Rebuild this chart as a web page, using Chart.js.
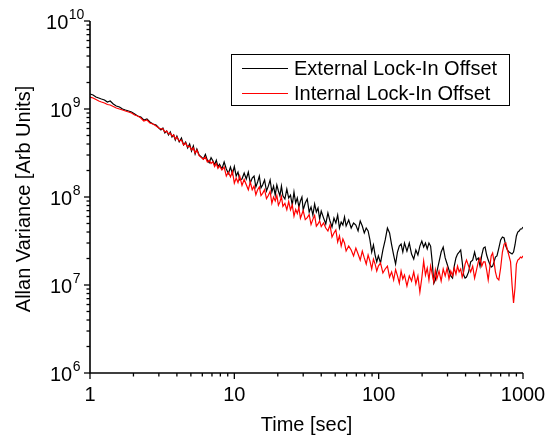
<!DOCTYPE html>
<html>
<head>
<meta charset="utf-8">
<script src="https://cdn.jsdelivr.net/npm/chart.js@4.4.1/dist/chart.umd.min.js"></script>
<style>
    html, body { margin: 0; padding: 0; background: #ffffff; }
    canvas { display: block; }
</style>
</head>
<body>
<canvas id="graficoAllan" width="550" height="440"></canvas>
<script>
// Tempos de integração (tau, em segundos)
const tau = [
    1, 1.05, 1.1, 1.15, 1.2, 1.26, 1.32, 1.38, 1.45, 1.52, 1.6, 1.68, 1.76, 1.85, 1.94, 2.04, 2.14, 2.25, 2.36, 2.48, 2.6, 2.73, 2.87, 3.0,
    3.1, 3.2, 3.3, 3.4, 3.5, 3.6, 3.7, 3.8, 3.9, 4.0,
    4.15, 4.3, 4.45, 4.6, 4.75, 4.9, 5.05, 5.2, 5.35, 5.5,
    5.7, 5.9, 6.1, 6.3, 6.5, 6.7, 6.9, 7.1, 7.3, 7.5, 7.7, 7.9,
    8.2, 8.5, 8.8, 9.1, 9.4, 9.7, 10, 10.3, 10.6, 10.9,
    11.3, 11.7, 12.1, 12.5, 12.9, 13.3, 13.7, 14.1, 14.5, 14.9, 15.3, 15.7,
    16.2, 16.7, 17.2, 17.7, 18.2, 18.7, 19.2, 19.7, 20.2, 20.7, 21.2, 21.7,
    22.4, 23.1, 23.8, 24.5, 25.2, 25.9, 26.6, 27.3, 28, 28.7, 29.4,
    30, 31, 32, 33, 34, 35, 36, 37, 38, 39, 40,
    41.5, 43, 44.5, 46, 47.5, 49, 50.5, 52, 53.5, 55, 56.5, 58, 59.5,
    62, 64.5, 67, 69.5, 72, 74.5, 77, 79.5, 82, 84.5, 87, 89.5, 92, 94.5, 97, 99.5,
    103, 107, 111, 115, 119, 123, 127, 131, 135, 139, 143, 147,
    151, 157, 163, 169, 175, 181, 187, 193, 199, 205, 211, 217, 223, 229, 235, 241, 247,
    253, 262, 271, 280, 289, 298, 307, 316, 325, 334, 343, 352, 361, 370, 379, 388, 397,
    406, 420, 434, 448, 462, 476, 490, 504, 518, 532, 546, 560, 574, 588, 602, 616, 630, 644,
    660, 680, 700, 720, 740, 760, 780, 800, 820, 840, 860, 880, 900, 920, 940, 960, 980, 1000
];

// Variância de Allan - offset do lock-in externo
const externoOffset = [
    1481e6, 1443e6, 1369e6, 1334e6, 1299e6, 1266e6, 1201e6, 1233e6, 1140e6, 1082e6, 1054e6, 1000e6, 974e6, 949e6, 925e6, 877e6, 833e6, 811e6, 750e6, 770e6, 712e6, 675e6, 658e6, 608e6,
    577e6, 608e6, 534e6, 562e6, 507e6, 548e6, 481e6, 507e6, 444e6, 493e6,
    422e6, 468e6, 390e6, 422e6, 361e6, 400e6, 333e6, 380e6, 308e6, 351e6,
    300e6, 285e6, 270e6, 305e6, 262e6, 245e6, 280e6, 258e6, 233e6, 262e6, 220e6, 236e6,
    208e6, 250e6, 208e6, 185e6, 219e6, 183e6, 222e6, 173e6, 192e6, 156e6,
    160e6, 187e6, 160e6, 192e6, 144e6, 164e6, 173e6, 130e6, 148e6, 173e6, 127e6, 137e6,
    156e6, 117e6, 133e6, 156e6, 114e6, 133e6, 105e6, 137e6, 117e6, 103e6, 133e6, 103e6,
    94.9e6, 123e6, 97.4e6, 105e6, 81.1e6, 114e6, 85.5e6, 97.4e6, 77.0e6, 90.1e6, 100e6,
    71.2e6, 85.5e6, 94.9e6, 67.5e6, 77.0e6, 62.4e6, 83.3e6, 67.5e6, 75.0e6, 56.2e6, 69.3e6,
    58.0e6, 49.4e6, 66.0e6, 53.4e6, 45.6e6, 57.7e6, 50.7e6, 62.4e6, 44.4e6, 52.0e6, 48.1e6, 59.3e6, 46.8e6,
    54.8e6, 44.4e6, 50.7e6, 47.9e6, 41.1e6, 53.4e6, 46.8e6, 39.0e6, 44.4e6, 41.1e6, 32.5e6, 23.7e6, 28.5e6, 21.9e6, 18.3e6, 21.4e6,
    17.8e6, 25.0e6, 32.5e6, 44.4e6, 39.0e6, 28.5e6, 21.9e6, 17.3e6, 23.7e6, 27.7e6, 29.2e6, 23.7e6,
    30.0e6, 24.3e6, 30.0e6, 22.5e6, 19.7e6, 25.0e6, 21.9e6, 27.7e6, 31.6e6, 27.0e6, 30.0e6, 25.7e6, 30.0e6, 27.7e6, 18.3e6, 10.5e6, 11.4e6,
    14.1e6, 18.3e6, 23.7e6, 27.0e6, 20.3e6, 17.3e6, 14.8e6, 12.7e6, 12.0e6, 16.4e6, 20.3e6, 22.5e6, 23.7e6, 25.0e6, 18.3e6, 13.0e6, 12.0e6,
    12.3e6, 14.1e6, 18.3e6, 19.2e6, 23.7e6, 19.2e6, 20.3e6, 16.4e6, 21.9e6, 26.3e6, 27.0e6, 21.9e6, 19.2e6, 17.3e6, 16.0e6, 16.4e6, 18.3e6, 20.8e6,
    21.4e6, 26.3e6, 32.5e6, 35.1e6, 34.2e6, 27.7e6, 25.0e6, 23.7e6, 23.1e6, 22.5e6, 23.7e6, 28.5e6, 36.1e6, 40.0e6, 41.1e6, 43.3e6, 43.3e6, 45.6e6
];

// Variância de Allan - offset do lock-in interno
const internoOffset = [
    1369e6, 1334e6, 1282e6, 1233e6, 1201e6, 1170e6, 1125e6, 1110e6, 1068e6, 1027e6, 1000e6, 974e6, 949e6, 925e6, 901e6, 855e6, 833e6, 790e6, 731e6, 750e6, 693e6, 675e6, 641e6, 608e6,
    593e6, 593e6, 548e6, 562e6, 520e6, 534e6, 493e6, 507e6, 456e6, 481e6,
    433e6, 444e6, 390e6, 411e6, 370e6, 380e6, 342e6, 361e6, 316e6, 342e6,
    295e6, 282e6, 268e6, 285e6, 250e6, 262e6, 240e6, 252e6, 222e6, 240e6, 212e6, 226e6,
    203e6, 219e6, 173e6, 192e6, 169e6, 195e6, 144e6, 164e6, 146e6, 173e6,
    135e6, 158e6, 138e6, 121e6, 148e6, 121e6, 133e6, 106e6, 121e6, 130e6, 104e6, 110e6,
    121e6, 95.9e6, 104e6, 116e6, 84.8e6, 99.7e6, 90.3e6, 104e6, 80.7e6, 88.0e6, 101e6, 78.2e6,
    84.6e6, 71.9e6, 88.7e6, 71.4e6, 81.1e6, 60.5e6, 72.3e6, 64.8e6, 76.0e6, 57.4e6, 64.1e6,
    70.1e6, 55.4e6, 58.3e6, 63.1e6, 48.7e6, 55.7e6, 61.9e6, 46.6e6, 49.4e6, 53.6e6, 46.1e6,
    50.7e6, 44.4e6, 41.1e6, 48.1e6, 35.1e6, 39.0e6, 42.2e6, 30.8e6, 36.1e6, 27.7e6, 33.3e6, 30.0e6, 24.3e6,
    27.7e6, 25.0e6, 21.4e6, 26.3e6, 22.5e6, 19.2e6, 24.3e6, 20.3e6, 17.3e6, 21.9e6, 18.7e6, 15.2e6, 19.7e6, 17.3e6, 14.4e6, 16.4e6,
    17.8e6, 13.7e6, 15.2e6, 16.4e6, 12.3e6, 14.1e6, 11.4e6, 15.0e6, 12.7e6, 10.5e6, 14.4e6, 11.7e6,
    13.0e6, 9.74e6, 12.7e6, 11.1e6, 14.1e6, 10.3e6, 12.7e6, 8.33e6, 12.0e6, 18.7e6, 13.0e6, 15.6e6, 11.4e6, 16.4e6, 13.3e6, 10.8e6, 14.8e6,
    11.7e6, 14.4e6, 11.1e6, 15.2e6, 12.7e6, 15.6e6, 11.7e6, 14.4e6, 12.7e6, 15.6e6, 13.3e6, 16.4e6, 14.1e6, 15.2e6, 12.3e6, 14.1e6, 17.3e6,
    19.2e6, 16.4e6, 14.1e6, 16.4e6, 12.0e6, 14.8e6, 18.3e6, 20.3e6, 16.4e6, 18.3e6, 18.3e6, 14.8e6, 11.4e6, 15.6e6, 21.4e6, 23.1e6, 18.3e6, 14.1e6,
    12.0e6, 11.4e6, 15.6e6, 23.7e6, 29.2e6, 30.0e6, 25.0e6, 21.4e6, 18.3e6, 10.0e6, 6.25e6, 9.25e6, 17.3e6, 19.2e6, 19.7e6, 20.8e6, 20.3e6, 21.4e6
];

// Nomes das séries, rótulos e títulos
const nomesSeries = ['External Lock-In Offset', 'Internal Lock-In Offset'];
const coresSeries = ['#000000', '#ff0000'];
const rotulosX = [1, 10, 100, 1000];
const expoentesY = [6, 7, 8, 9, 10];
const tituloX = 'Time [sec]';
const tituloY = 'Allan Variance [Arb Units]';

const fonte = '"Liberation Sans", Arial, sans-serif';

// Junta tau e valores em pontos {x, y}
function montarPontos(valores) {
    let pontos = [];
    for (let i = 0; i < tau.length; i++) {
        pontos.push({ x: tau[i], y: valores[i] });
    }
    return pontos;
}

// Plugin que desenha eixos, ticks, rótulos e legenda no estilo do Origin
const eixosPlugin = {
    id: 'eixosOrigin',
    afterDatasetsDraw(chart) {
        const ctx = chart.ctx;
        const sx = chart.scales.x;
        const sy = chart.scales.y;
        const area = chart.chartArea;

        ctx.save();
        ctx.strokeStyle = '#000000';
        ctx.fillStyle = '#000000';

        // linhas dos eixos
        ctx.lineWidth = 1.6;
        ctx.beginPath();
        ctx.moveTo(area.left, area.top);
        ctx.lineTo(area.left, area.bottom);
        ctx.lineTo(area.right, area.bottom);
        ctx.stroke();

        // ticks do eixo x
        ctx.lineWidth = 1.3;
        let maxX = rotulosX[rotulosX.length - 1];
        for (let d = 0; d < rotulosX.length; d++) {
            for (let m = 1; m <= 9; m++) {
                let v = rotulosX[d] * m;
                if (v > maxX) break;
                let px = sx.getPixelForValue(v);
                let tam = (m === 1) ? 6 : 3.5;
                ctx.beginPath();
                ctx.moveTo(px, area.bottom);
                ctx.lineTo(px, area.bottom + tam);
                ctx.stroke();
            }
        }

        // ticks do eixo y
        let maxE = expoentesY[expoentesY.length - 1];
        for (let k = 0; k < expoentesY.length; k++) {
            for (let m = 1; m <= 9; m++) {
                if (expoentesY[k] === maxE && m > 1) break;
                let py = sy.getPixelForValue(m * Math.pow(10, expoentesY[k]));
                let tam = (m === 1) ? 6 : 3.5;
                ctx.beginPath();
                ctx.moveTo(area.left, py);
                ctx.lineTo(area.left - tam, py);
                ctx.stroke();
            }
        }

        // rótulos do eixo x
        ctx.font = '20px ' + fonte;
        ctx.textAlign = 'center';
        ctx.textBaseline = 'alphabetic';
        for (let d = 0; d < rotulosX.length; d++) {
            ctx.fillText(String(rotulosX[d]), sx.getPixelForValue(rotulosX[d]), area.bottom + 28);
        }

        // rótulos do eixo y (10 com expoente)
        ctx.textAlign = 'left';
        for (let k = 0; k < expoentesY.length; k++) {
            let py = sy.getPixelForValue(Math.pow(10, expoentesY[k]));
            ctx.font = '20px ' + fonte;
            let w1 = ctx.measureText('10').width;
            ctx.font = '14px ' + fonte;
            let w2 = ctx.measureText(String(expoentesY[k])).width;
            let x0 = 65 - (w1 + w2) / 2;
            ctx.font = '20px ' + fonte;
            ctx.fillText('10', x0, py + 8);
            ctx.font = '14px ' + fonte;
            ctx.fillText(String(expoentesY[k]), x0 + w1 + 0.5, py - 2);
        }

        // títulos dos eixos
        ctx.font = '20px ' + fonte;
        ctx.textAlign = 'center';
        ctx.fillText(tituloX, (area.left + area.right) / 2, 431);
        ctx.save();
        ctx.translate(30, (area.top + area.bottom) / 2 + 2);
        ctx.rotate(-Math.PI / 2);
        ctx.fillText(tituloY, 0, 0);
        ctx.restore();

        // legenda dentro do gráfico
        ctx.lineWidth = 1;
        ctx.strokeRect(231.5, 54.5, 278, 51);
        ctx.textAlign = 'left';
        for (let i = 0; i < nomesSeries.length; i++) {
            let ly = 68.5 + i * 25;
            ctx.strokeStyle = coresSeries[i];
            ctx.beginPath();
            ctx.moveTo(242, ly);
            ctx.lineTo(288, ly);
            ctx.stroke();
            ctx.fillStyle = '#000000';
            ctx.fillText(nomesSeries[i], 294, 75 + i * 25);
        }
        ctx.restore();
    }
};

function plotarGraficoAllan() {
    // Configurando o gráfico log-log
    const config = {
        type: 'line',
        data: {
            datasets: [{
                label: nomesSeries[0],
                data: montarPontos(externoOffset),
                borderColor: coresSeries[0],
                borderWidth: 1.2,
                pointRadius: 0,
                tension: 0,
                order: 1
            }, {
                label: nomesSeries[1],
                data: montarPontos(internoOffset),
                borderColor: coresSeries[1],
                borderWidth: 1.2,
                pointRadius: 0,
                tension: 0,
                order: 0
            }]
        },
        options: {
            responsive: false,
            animation: false,
            devicePixelRatio: 1,
            layout: { padding: { top: 21, right: 27, left: 0, bottom: 0 } },
            plugins: {
                legend: { display: false },
                tooltip: { enabled: false }
            },
            scales: {
                x: {
                    type: 'logarithmic',
                    min: 1,
                    max: 1000,
                    grid: { display: false },
                    border: { display: false },
                    ticks: { display: false },
                    afterFit: function (escala) { escala.height = 67; }
                },
                y: {
                    type: 'logarithmic',
                    min: 1e6,
                    max: 1e10,
                    grid: { display: false },
                    border: { display: false },
                    ticks: { display: false },
                    afterFit: function (escala) { escala.width = 90; }
                }
            }
        },
        plugins: [eixosPlugin]
    };

    new Chart(document.getElementById('graficoAllan'), config);
}

plotarGraficoAllan();
</script>
</body>
</html>
